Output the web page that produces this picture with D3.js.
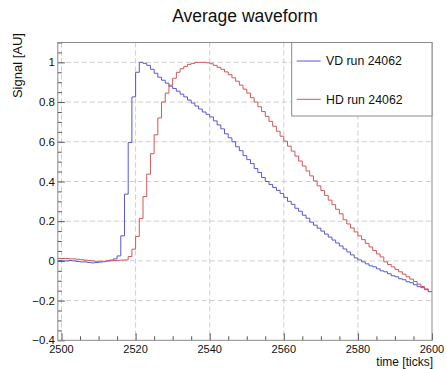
<!DOCTYPE html>
<html>
<head>
<meta charset="utf-8">
<script src="https://cdn.jsdelivr.net/npm/d3@7"></script>
<style>
  html, body { margin: 0; padding: 0; background: #fff; }
  svg { display: block; font-family: "Liberation Sans", Arial, Helvetica, sans-serif; }
</style>
</head>
<body>
<svg id="chart" width="447" height="369"></svg>
<script>
// ---- data ----
const binStart = 2499;           // first bin lower edge (ticks), bins of width 1
const binEnd = 2600;
const vdValues = [
  0.002, 0.0, 0.0, 0.002, 0.0, -0.003, -0.005, -0.005, -0.008, -0.01,
  -0.008, -0.006, -0.004, 0.0, 0.004, 0.01, 0.025, 0.126, 0.336, 0.596,
  0.826, 0.95, 1.0, 0.995, 0.985, 0.965, 0.945, 0.925, 0.91, 0.895,
  0.88, 0.868, 0.855, 0.84, 0.826, 0.81, 0.795, 0.78, 0.765, 0.75,
  0.738, 0.725, 0.705, 0.685, 0.665, 0.64, 0.62, 0.60, 0.575, 0.555,
  0.53, 0.51, 0.49, 0.465, 0.445, 0.42, 0.40, 0.385, 0.37, 0.355,
  0.34, 0.32, 0.30, 0.285, 0.265, 0.25, 0.23, 0.215, 0.195, 0.18,
  0.165, 0.15, 0.135, 0.12, 0.105, 0.09, 0.075, 0.06, 0.045, 0.03,
  0.015, 0.005, -0.005, -0.015, -0.025, -0.03, -0.04, -0.05, -0.055, -0.065,
  -0.075, -0.08, -0.09, -0.095, -0.105, -0.11, -0.12, -0.13, -0.135, -0.145,
  -0.155
];
const hdValues = [
  0.012, 0.012, 0.012, 0.01, 0.01, 0.008, 0.006, 0.004, 0.002, 0.0,
  -0.002, -0.002, -0.002, 0.0, 0.0, 0.002, 0.003, 0.004, 0.005, 0.022,
  0.059, 0.123, 0.213, 0.324, 0.437, 0.54, 0.635, 0.72, 0.80, 0.845,
  0.885, 0.92, 0.95, 0.968, 0.98, 0.99, 0.995, 1.0, 1.0, 1.0,
  0.998, 0.993, 0.985, 0.975, 0.965, 0.952, 0.938, 0.922, 0.905, 0.885,
  0.865, 0.845, 0.822, 0.80, 0.776, 0.752, 0.728, 0.703, 0.678, 0.653,
  0.628, 0.603, 0.578, 0.553, 0.528, 0.503, 0.478, 0.453, 0.428, 0.403,
  0.378, 0.354, 0.330, 0.306, 0.283, 0.260, 0.237, 0.207, 0.186, 0.166,
  0.146, 0.126, 0.107, 0.088, 0.07, 0.052, 0.035, 0.02, -0.005, -0.018,
  -0.03, -0.043, -0.055, -0.067, -0.08, -0.092, -0.104, -0.117, -0.129, -0.141,
  -0.154
];
const seriesNames = ["VD run 24062", "HD run 24062"];
const seriesColors = ["#5858d0", "#d05858"];
const xMajorTicks = [2500, 2520, 2540, 2560, 2580, 2600];
const yMajorTicks = [-0.4, -0.2, 0, 0.2, 0.4, 0.6, 0.8, 1];
const yTickLabels = ["\u22120.4", "\u22120.2", "0", "0.2", "0.4", "0.6", "0.8", "1"];
const titleText = "Average waveform";
const xTitle = "time [ticks]";
const yTitle = "Signal [AU]";

// ---- layout ----
const frame = { left: 57.8, right: 432, top: 42.5, bottom: 340.3 };
const svg = d3.select("#chart");

const x = d3.scaleLinear().domain([binStart, binEnd]).range([frame.left, frame.right]);
const y = d3.scaleLinear().domain([-0.4, 1.1]).range([frame.bottom, frame.top]);

// grid
const grid = svg.append("g").attr("stroke", "#cdcdcd").attr("stroke-width", 1)
  .attr("stroke-dasharray", "5,3").attr("fill", "none");
xMajorTicks.filter(t => t > binStart && t < binEnd).forEach(t => {
  grid.append("line").attr("x1", x(t)).attr("x2", x(t))
    .attr("y1", frame.top).attr("y2", frame.bottom);
});
yMajorTicks.filter(v => v > -0.4).forEach(v => {
  grid.append("line").attr("x1", frame.left).attr("x2", frame.right)
    .attr("y1", y(v)).attr("y2", y(v));
});

// histograms
svg.append("clipPath").attr("id", "clip").append("rect")
  .attr("x", frame.left).attr("y", frame.top)
  .attr("width", frame.right - frame.left).attr("height", frame.bottom - frame.top);

function stepPoints(vals) {
  const pts = vals.map((v, i) => [binStart + i, v]);
  pts.push([binStart + vals.length, vals[vals.length - 1]]);
  return pts;
}
const line = d3.line().x(d => x(d[0])).y(d => y(d[1])).curve(d3.curveStepAfter);
[vdValues, hdValues].forEach((vals, i) => {
  svg.append("path").attr("clip-path", "url(#clip)")
    .attr("d", line(stepPoints(vals)))
    .attr("fill", "none").attr("stroke", seriesColors[i]).attr("stroke-width", 1);
});

// axes (ROOT style: inward ticks)
const xAxis = d3.axisTop(x).tickValues(d3.range(2500, 2601, 5))
  .tickSize(4).tickFormat("");
const gx = svg.append("g").attr("transform", `translate(0,${frame.bottom})`).call(xAxis);
gx.selectAll(".tick line").attr("stroke", "#555")
  .attr("y2", d => (d % 20 === 0 ? -7 : -4));
gx.select(".domain").remove();

const yAxis = d3.axisRight(y).tickValues(d3.range(-0.4, 1.1001, 0.05).map(v => +v.toFixed(2)))
  .tickSize(4).tickFormat("");
const gy = svg.append("g").attr("transform", `translate(${frame.left},0)`).call(yAxis);
gy.selectAll(".tick line").attr("stroke", "#555")
  .attr("x2", d => (Math.abs(Math.round(d * 5) - d * 5) < 1e-6 ? 7 : 4));
gy.select(".domain").remove();

// tick labels
const labels = svg.append("g").attr("fill", "#111").attr("font-size", "11.5px");
xMajorTicks.forEach(t => {
  labels.append("text").attr("x", x(t)).attr("y", 352.5)
    .attr("text-anchor", "middle").attr("font-size", "11px").text(t);
});
yMajorTicks.forEach((v, i) => {
  labels.append("text").attr("x", 55).attr("y", y(v)).attr("dy", "0.36em")
    .attr("text-anchor", "end").text(yTickLabels[i]);
});

// frame
svg.append("rect").attr("x", frame.left).attr("y", frame.top)
  .attr("width", frame.right - frame.left).attr("height", frame.bottom - frame.top)
  .attr("fill", "none").attr("stroke", "#8a8a8a").attr("stroke-width", 1);

// titles
svg.append("text").attr("x", 245).attr("y", 22).attr("text-anchor", "middle")
  .attr("font-size", "17.5px").attr("fill", "#111").text(titleText);
svg.append("text").attr("x", frame.right + 1).attr("y", 365.5).attr("text-anchor", "end")
  .attr("font-size", "12px").attr("fill", "#111").text(xTitle);
svg.append("text").attr("transform", "translate(22,33) rotate(-90)")
  .attr("text-anchor", "end").attr("font-size", "13px").attr("fill", "#111").text(yTitle);

// legend
const leg = { left: 291.7, top: frame.top, right: frame.right, bottom: 116 };
svg.append("rect").attr("x", leg.left).attr("y", leg.top)
  .attr("width", leg.right - leg.left).attr("height", leg.bottom - leg.top)
  .attr("fill", "#fff").attr("stroke", "#8a8a8a").attr("stroke-width", 1);
const legY = [61, 99.3];
seriesNames.forEach((name, i) => {
  svg.append("line").attr("x1", 296.7).attr("x2", 320.7)
    .attr("y1", legY[i]).attr("y2", legY[i])
    .attr("stroke", seriesColors[i]).attr("stroke-width", 1);
  svg.append("text").attr("x", 326).attr("y", legY[i]).attr("dy", "0.36em")
    .attr("font-size", "12.3px").attr("fill", "#111").text(name);
});
</script>
</body>
</html>
